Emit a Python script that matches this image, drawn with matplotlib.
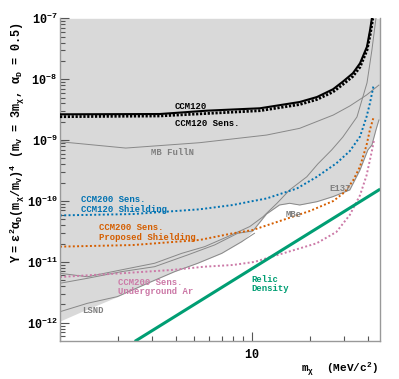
import matplotlib
matplotlib.use('Agg')
import matplotlib.pyplot as plt
import numpy as np
from matplotlib.ticker import LogLocator, NullFormatter

plt.rcParams['font.family'] = ['Liberation Mono', 'DejaVu Sans']
plt.rcParams['mathtext.fontset'] = 'custom'
plt.rcParams['mathtext.rm'] = 'Liberation Mono:bold'
plt.rcParams['mathtext.it'] = 'Liberation Mono:bold'
plt.rcParams['mathtext.bf'] = 'Liberation Mono:bold'

# excluded region (lower edge of the grey band)
excl_x = [1.0, 1.29, 1.99, 2.86, 3.95, 5.21, 6.95, 8.84, 10.1, 11.9, 13.9, 15.7, 17.7,
          21.8, 26.4, 32.3, 36.5, 40.1, 42.1, 44.2, 45.8, 46.4]
excl_y = [1.07e-12, 1.52e-12, 2.69e-12, 4.46e-12, 6.91e-12, 9.48e-12, 1.38e-11, 2.15e-11,
          3.22e-11, 6.12e-11, 8.6e-11, 9.17e-11, 8.6e-11, 9.75e-11, 1.18e-10, 1.52e-10,
          3.23e-10, 6.88e-10, 8.3e-10, 1.47e-9, 2.14e-9, 2.14e-9]

# existing limits (thin grey)
lsnd_x = [1.0, 1.39, 1.99, 2.86, 3.95, 5.21, 6.95, 8.84, 10.3]
lsnd_y = [1.52e-12, 2.09e-12, 2.69e-12, 4.46e-12, 6.91e-12, 9.48e-12, 1.38e-11, 2.15e-11, 2.95e-11]

lineA_x = [1.0, 1.39, 2.09, 3.11, 4.30, 5.67, 7.47, 9.73, 11.4, 13.5, 15.7, 19.3, 22.0,
           26.0, 29.7, 35.2, 39.7, 42.1, 44.2]
lineA_y = [6.5e-12, 5.7e-12, 7.4e-12, 9.5e-12, 1.38e-11, 1.78e-11, 2.6e-11, 3.8e-11, 5.5e-11,
           9.2e-11, 1.52e-10, 2.5e-10, 4.05e-10, 6.9e-10, 1.12e-9, 2.4e-9, 8.7e-9, 3.0e-8, 1e-7]

e137_x = [1.0, 1.39, 2.09, 3.11, 4.62, 6.39, 8.42, 10.1, 11.9, 13.9, 15.7, 17.7, 21.8,
          26.4, 32.3, 36.5, 40.1, 42.1, 44.2, 45.8]
e137_y = [4.46e-12, 5.38e-12, 6.91e-12, 8.34e-12, 1.30e-11, 1.90e-11, 2.95e-11, 3.22e-11,
          6.12e-11, 8.6e-11, 9.17e-11, 8.6e-11, 9.75e-11, 1.18e-10, 1.52e-10, 3.23e-10,
          6.88e-10, 8.3e-10, 1.47e-9, 2.14e-9]

mb_x = [1.0, 2.2, 5.33, 11.9, 17.7, 26.5, 32.3, 39.5, 45.8]
mb_y = [9.4e-10, 7.4e-10, 9.06e-10, 1.21e-9, 1.56e-9, 2.58e-9, 3.63e-9, 5.5e-9, 8.0e-9]

# CCM120
ccm120_x = [1.0, 3.31, 5.80, 11.0, 17.7, 21.8, 26.4, 29.7, 33.5, 36.5, 39.7, 41.2, 42.1]
ccm120_y = [2.65e-9, 2.68e-9, 3.04e-9, 3.33e-9, 4.22e-9, 5.1e-9, 6.83e-9, 9.1e-9, 1.25e-8,
            1.82e-8, 3.42e-8, 6.43e-8, 1e-7]
sens120_x = [1.0, 3.31, 11.0, 17.7, 21.8, 26.4, 29.7, 33.5, 36.5, 39.7, 41.2, 42.6]
sens120_y = [2.42e-9, 2.49e-9, 3.04e-9, 3.84e-9, 4.65e-9, 6.17e-9, 8.18e-9, 1.11e-8, 1.58e-8,
             3.0e-8, 5.3e-8, 1e-7]

# CCM200 sensitivities
blue_x = [1.0, 2.39, 5.33, 7.96, 9.72, 11.9, 14.5, 17.1, 21.7, 27.5, 32.3, 36.5, 39.5, 41.1, 42.8, 43.7]
blue_y = [5.8e-11, 6.1e-11, 7.3e-11, 8.6e-11, 9.75e-11, 1.1e-10, 1.35e-10, 1.6e-10, 2.48e-10,
          4.16e-10, 6.6e-10, 1.14e-9, 2.42e-9, 4.0e-9, 7.4e-9, 8.0e-9]
orange_x = [1.0, 2.39, 5.33, 7.96, 10.1, 14.5, 20.0, 26.5, 30.5, 33.7, 36.5, 39.5, 41.1, 42.8]
orange_y = [1.78e-11, 1.89e-11, 2.29e-11, 2.95e-11, 3.34e-11, 4.88e-11, 6.85e-11, 1.0e-10,
            1.41e-10, 2.21e-10, 3.66e-10, 8.3e-10, 1.47e-9, 2.28e-9]
pink_x = [1.0, 2.09, 3.80, 5.66, 7.96, 10.3, 14.5, 21.7, 27.5, 32.3, 36.5, 39.5, 42.0, 43.2]
pink_y = [5.65e-12, 6.5e-12, 7.36e-12, 8.34e-12, 8.9e-12, 1.0e-11, 1.38e-11, 2.02e-11, 3.1e-11,
          5.9e-11, 1.24e-10, 2.64e-10, 6.4e-10, 1.0e-9]

relic_x = [2.49, 45.8]
relic_y = [5.1e-13, 1.52e-10]

blue = '#0072B2'
orange = '#D55E00'
pink = '#CC79A7'
green = '#009E73'
grey = '#888888'

fig = plt.figure(figsize=(3.99, 3.79), dpi=100)
ax = fig.add_axes([60/399, 38.3/379, 320/399, 322.4/379])
ax.set_xscale('log')
ax.set_yscale('log')
ax.set_xlim(1.0, 46.4)
ax.set_ylim(5.08e-13, 1e-7)

ax.fill_between(excl_x, excl_y, 1e-7, color='#d9d9d9', lw=0, zorder=0)

for xs, ys in [(lsnd_x, lsnd_y), (lineA_x, lineA_y), (e137_x, e137_y), (mb_x, mb_y)]:
    ax.plot(xs, ys, color=grey, lw=0.7, zorder=1)

ax.plot(ccm120_x, ccm120_y, color='black', lw=1.5, zorder=3)
ax.plot(sens120_x, sens120_y, color='black', lw=2.0, ls=(0, (0.8, 0.6)), zorder=3)
ax.plot(blue_x, blue_y, color=blue, lw=1.4, ls=(0, (1, 1.2)), zorder=2)
ax.plot(orange_x, orange_y, color=orange, lw=1.4, ls=(0, (1, 1.2)), zorder=2)
ax.plot(pink_x, pink_y, color=pink, lw=1.4, ls=(0, (1, 1.2)), zorder=2)
ax.plot(relic_x, relic_y, color=green, lw=2.2, zorder=2)

fs = 6.4
tk = dict(transform=ax.transAxes, fontsize=fs, fontweight='bold', va='center', ha='left')
ax.text(0.359, 0.725, 'CCM120', color='black', **tk)
ax.text(0.359, 0.674, 'CCM120 Sens.', color='black', **tk)
ax.text(0.283, 0.585, 'MB FullN', color='#7f7f7f', **tk)
ax.text(0.065, 0.423, 'CCM200 Sens.\nCCM120 Shielding', color=blue, linespacing=1.1, **tk)
ax.text(0.121, 0.336, 'CCM200 Sens.\nProposed Shielding', color=orange, linespacing=1.1, **tk)
ax.text(0.180, 0.167, 'CCM200 Sens.\nUnderground Ar', color=pink, linespacing=1.1, **tk)
ax.text(0.068, 0.095, 'LSND', color='#7f7f7f', **tk)
ax.text(0.706, 0.390, 'MBe', color='#7f7f7f', **tk)
ax.text(0.841, 0.473, 'E137', color='#7f7f7f', **tk)
ax.text(0.599, 0.176, 'Relic\nDensity', color=green, linespacing=1.1, **tk)

# ticks
ax.set_yticks([1e-12, 1e-11, 1e-10, 1e-9, 1e-8, 1e-7])
ax.set_yticklabels([r'$10^{-12}$', r'$10^{-11}$', r'$10^{-10}$', r'$10^{-9}$', r'$10^{-8}$', r'$10^{-7}$'])
ax.yaxis.set_minor_locator(LogLocator(base=10, subs=np.arange(2, 10), numticks=20))
ax.yaxis.set_minor_formatter(NullFormatter())
ax.set_xticks([1, 10])
ax.set_xticklabels(['', r'$10$'])
ax.xaxis.set_minor_locator(LogLocator(base=10, subs=np.arange(2, 10), numticks=20))
ax.xaxis.set_minor_formatter(NullFormatter())
ax.tick_params(which='both', direction='in', color='#555555', width=0.8, labelsize=8.5)
ax.tick_params(which='major', length=6.5)
ax.tick_params(which='minor', length=3.6)
ax.tick_params(axis='y', which='major', pad=2)
ax.tick_params(axis='x', which='major', pad=5)

for s in ['left', 'bottom', 'right']:
    ax.spines[s].set_color('#999999')
    ax.spines[s].set_linewidth(1.0)
ax.spines['top'].set_visible(False)

fig.text(0.947, 0.027, r'$m_{\chi}$  (MeV/c$^{2}$)', ha='right', va='center',
         fontsize=8, fontweight='bold')
fig.text(0.043, 0.624,
         r'$Y\ =\ \epsilon^{2}\alpha_{D}(m_{\chi}/m_{V})^{4}$ ($m_{V}$ = $3m_{\chi}$, $\alpha_{D}$ = 0.5)',
         rotation=90, ha='center', va='center', fontsize=8.5, fontweight='bold')

fig.savefig('out.png', dpi=100)
